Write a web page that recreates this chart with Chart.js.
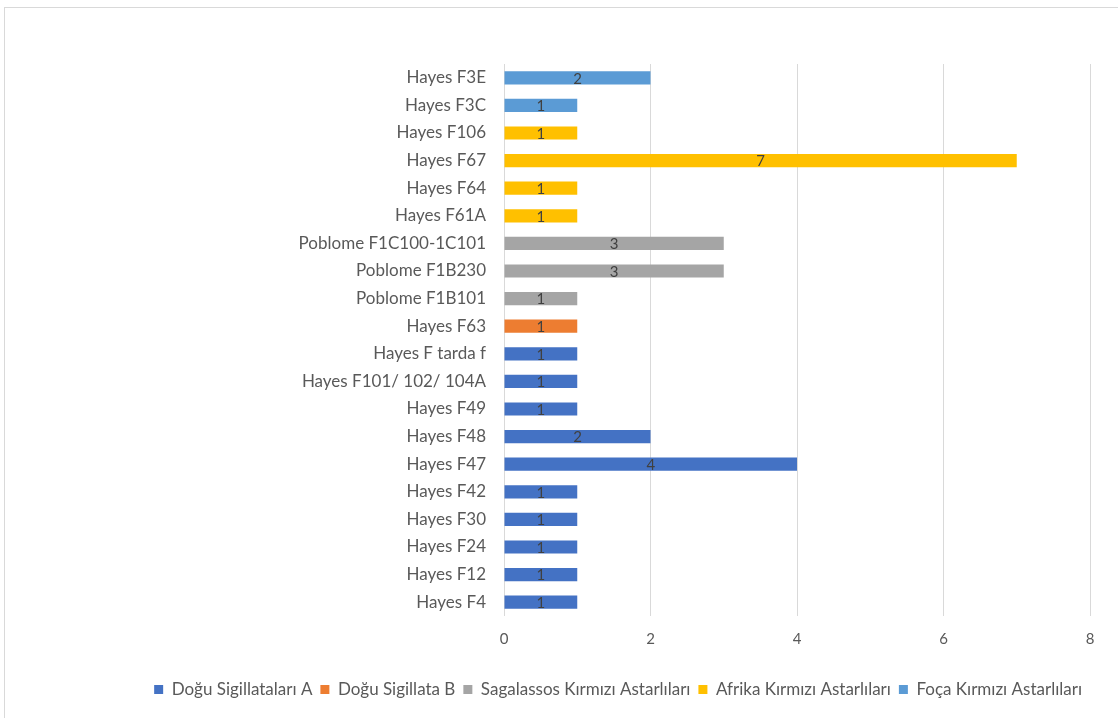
<!DOCTYPE html>
<html>
<head>
<meta charset="utf-8">
<script src="https://cdn.jsdelivr.net/npm/chart.js@4"></script>
<style>
  body { margin: 0; background: #fff; }
  #frame { position: absolute; left: 4px; top: 7px; width: 1120px; height: 720px; border: 1px solid #d9d9d9; }
  #c { position: absolute; left: 0; top: 0; }
</style>
</head>
<body>
<div id="frame"></div>
<canvas id="c" width="1118" height="718"></canvas>
<script>
var categories = ['Hayes F3E', 'Hayes F3C', 'Hayes F106', 'Hayes F67', 'Hayes F64', 'Hayes F61A',
  'Poblome F1C100-1C101', 'Poblome F1B230', 'Poblome F1B101', 'Hayes F63', 'Hayes F tarda f',
  'Hayes F101/ 102/ 104A', 'Hayes F49', 'Hayes F48', 'Hayes F47', 'Hayes F42', 'Hayes F30',
  'Hayes F24', 'Hayes F12', 'Hayes F4'];

var doguA      = [null, null, null, null, null, null, null, null, null, null, 1, 1, 1, 2, 4, 1, 1, 1, 1, 1];
var doguB      = [null, null, null, null, null, null, null, null, null, 1, null, null, null, null, null, null, null, null, null, null];
var sagalassos = [null, null, null, null, null, null, 3, 3, 1, null, null, null, null, null, null, null, null, null, null, null];
var afrika     = [null, null, 1, 7, 1, 1, null, null, null, null, null, null, null, null, null, null, null, null, null, null];
var foca       = [2, 1, null, null, null, null, null, null, null, null, null, null, null, null, null, null, null, null, null, null];

var xTicks = [0, 2, 4, 6, 8];

// value labels in the middle of each bar
var barLabels = {
  id: 'barLabels',
  afterDatasetsDraw(chart) {
    var ctx = chart.ctx;
    ctx.save();
    ctx.font = '15px Lato';
    ctx.fillStyle = '#404040';
    ctx.textAlign = 'center';
    ctx.textBaseline = 'middle';
    chart.data.datasets.forEach((ds, i) => {
      chart.getDatasetMeta(i).data.forEach((bar, j) => {
        if (ds.data[j] == null) return;
        var p = bar.getProps(['x', 'y', 'base'], true);
        ctx.fillText(ds.data[j], (p.x + p.base) / 2, p.y + 1);
      });
    });
    ctx.restore();
  }
};

Chart.defaults.font.family = 'Lato';
Chart.defaults.color = '#595959';

new Chart(document.getElementById('c'), {
  type: 'bar',
  plugins: [barLabels],
  data: {
    labels: categories,
    datasets: [
      { label: 'Doğu Sigillataları A', data: doguA, backgroundColor: '#4472C4' },
      { label: 'Doğu Sigillata B', data: doguB, backgroundColor: '#ED7D31' },
      { label: 'Sagalassos Kırmızı Astarlıları', data: sagalassos, backgroundColor: '#A5A5A5' },
      { label: 'Afrika Kırmızı Astarlıları', data: afrika, backgroundColor: '#FFC000' },
      { label: 'Foça Kırmızı Astarlıları', data: foca, backgroundColor: '#5B9BD5' }
    ]
  },
  options: {
    responsive: false,
    animation: false,
    indexAxis: 'y',
    barPercentage: 0.48,
    categoryPercentage: 1,
    layout: { padding: { left: 20, right: 28, top: 64, bottom: 10 } },
    plugins: {
      tooltip: { enabled: false },
      legend: {
        position: 'bottom',
        align: 'end',
        labels: { boxWidth: 9, boxHeight: 9, padding: 8, font: { size: 17 }, color: '#595959' }
      }
    },
    scales: {
      x: {
        stacked: true,
        min: 0,
        max: 8,
        afterBuildTicks: (s) => { s.ticks = xTicks.map(v => ({ value: v })); },
        grid: { color: '#d9d9d9', drawTicks: false },
        border: { display: false },
        ticks: { font: { size: 15 }, padding: 14 },
        afterFit: (s) => { s.height = 57; }
      },
      y: {
        stacked: true,
        grid: { display: false },
        border: { display: false },
        ticks: { font: { size: 17 }, padding: 10 },
        afterFit: (s) => { s.width = 504 - 20; }
      }
    }
  }
});
</script>
</body>
</html>
